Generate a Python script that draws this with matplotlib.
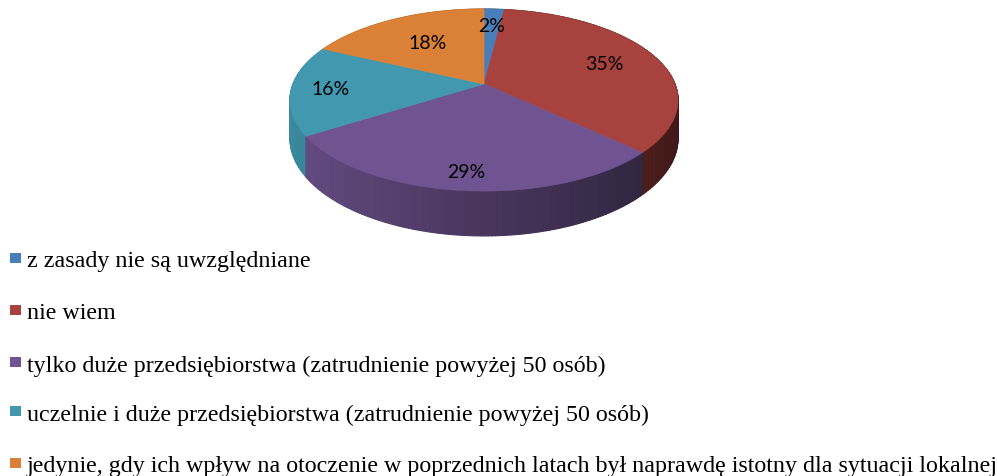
import numpy as np
import matplotlib.pyplot as plt
from matplotlib.patches import Polygon, Rectangle
from matplotlib.colors import to_rgb

# data
labels = ["z zasady nie są uwzględniane",
          "nie wiem",
          "tylko duże przedsiębiorstwa (zatrudnienie powyżej 50 osób)",
          "uczelnie i duże przedsiębiorstwa (zatrudnienie powyżej 50 osób)",
          "jedynie, gdy ich wpływ na otoczenie w poprzednich latach był naprawdę istotny dla sytuacji lokalnej"]
values = [2, 35, 29, 16, 18]
colors = ["#4A7EBB", "#A8423F", "#705491", "#4198AF", "#DA8137"]
label_r = [0.75, 0.7, 0.85, 0.8, 0.6]

# pie geometry in pixel space (perspective 3d look)
cx, cy = 484, 85
a, b, k = 191, 88.2, 0.176
depth = 37


def project(x, yd, drop=0.0):
    w = 1 + k * yd
    return cx + a * x / w, cy - b * yd / w + drop / w


fig = plt.figure(figsize=(9.97, 4.77), dpi=100)
ax = fig.add_axes([0, 0, 1, 1])
ax.set_xlim(0, 997)
ax.set_ylim(477, 0)
ax.axis('off')

fracs = np.array(values) / sum(values)
edges = np.concatenate([[0], np.cumsum(fracs)]) * 2 * np.pi

# side walls, drawn as small quads from back to front
quads = []
for i in range(len(values)):
    th = np.linspace(edges[i], edges[i + 1], max(int(fracs[i] * 400), 4))
    for t0, t1 in zip(th[:-1], th[1:]):
        xs = np.sin([t0, t1])
        ys = np.cos([t0, t1])
        p0 = project(xs[0], ys[0]); p1 = project(xs[1], ys[1])
        q0 = project(xs[0], ys[0], depth); q1 = project(xs[1], ys[1], depth)
        shade = 0.92 - 0.55 * (np.sin((t0 + t1) / 2) + 1) / 2
        c = np.clip(np.array(to_rgb(colors[i])) * shade, 0, 1)
        quads.append((np.cos((t0 + t1) / 2), [p0, p1, q1, q0], c))
quads.sort(key=lambda q: -q[0])
for _, pts, c in quads:
    ax.add_patch(Polygon(pts, closed=True, facecolor=c, edgecolor=c, lw=0.8))

# top faces
for i in range(len(values)):
    th = np.linspace(edges[i], edges[i + 1], max(int(fracs[i] * 400), 4))
    pts = [project(0, 0)] + [project(np.sin(t), np.cos(t)) for t in th]
    ax.add_patch(Polygon(pts, closed=True, facecolor=colors[i], edgecolor=colors[i], lw=0.5))

# percent labels
for i, v in enumerate(values):
    mid = (edges[i] + edges[i + 1]) / 2
    r = label_r[i]
    lx, ly = project(r * np.sin(mid), r * np.cos(mid))
    ax.text(lx, ly, f"{v}%", ha='center', va='center', fontsize=14,
            family='Lato', color='black')

# legend
leg_y = [259, 311, 363, 412, 464]
for lab, c, y in zip(labels, colors, leg_y):
    ax.add_patch(Rectangle((10, y - 5), 11, 10, facecolor=c, edgecolor='none'))
    ax.text(27, y + 3, lab, ha='left', va='center', fontsize=17.3,
            family='Liberation Serif', color='black')

fig.savefig("out.png", dpi=100)
